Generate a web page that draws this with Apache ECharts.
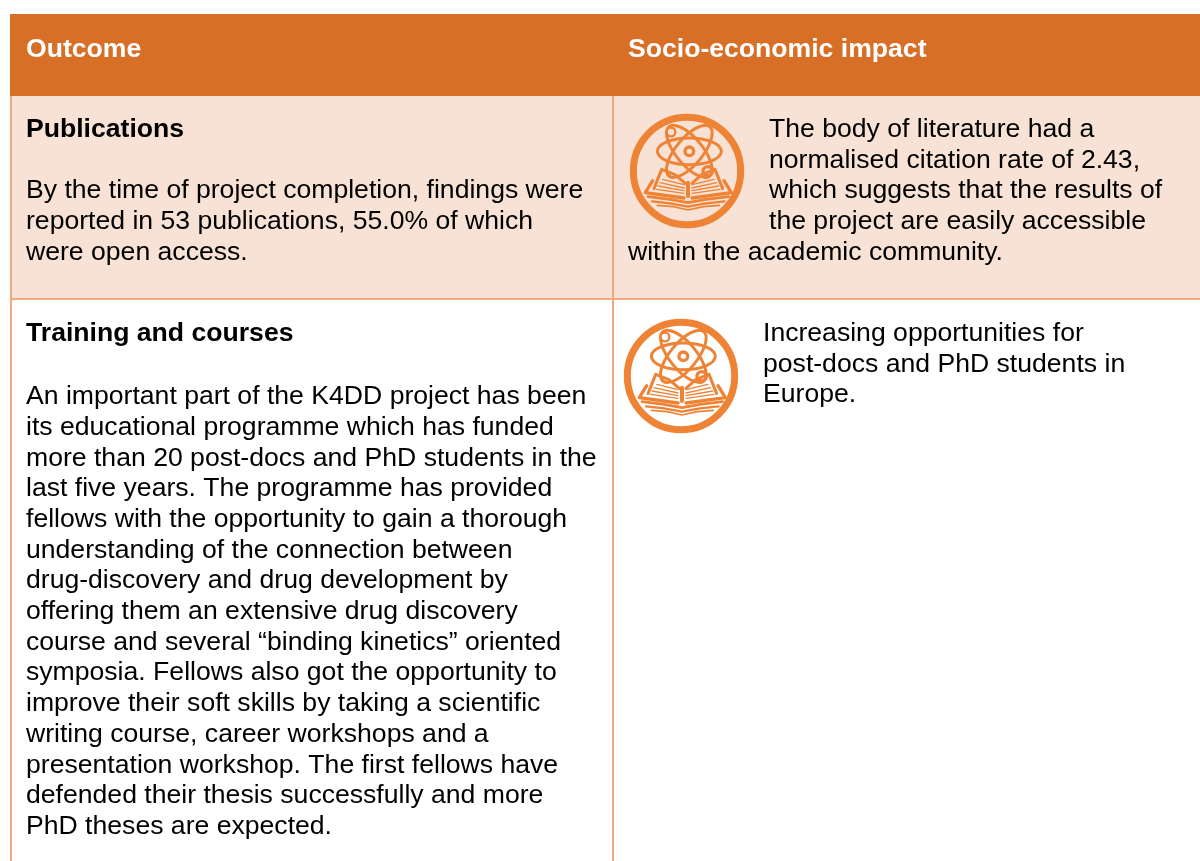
<!DOCTYPE html>
<html>
<head>
<meta charset="utf-8">
<title>K4DD outcomes</title>
<script src="https://cdn.jsdelivr.net/npm/echarts@6/dist/echarts.min.js"></script>
<style>
  html, body { margin: 0; padding: 0; background: #fff; }
  #main { width: 1200px; height: 861px; }
</style>
</head>
<body>
<div id="main"></div>
<script>
const headerLabels = ['Outcome', 'Socio-economic impact'];
const rowTitles = ['Publications', 'Training and courses'];
const publicationLines = [
  'By the time of project completion, findings were',
  'reported in 53 publications, 55.0% of which',
  'were open access.'
];
const publicationImpactLines = [
  'The body of literature had a',
  'normalised citation rate of 2.43,',
  'which suggests that the results of',
  'the project are easily accessible'
];
const publicationImpactLast = 'within the academic community.';
const trainingLines = [
  'An important part of the K4DD project has been',
  'its educational programme which has funded',
  'more than 20 post-docs and PhD students in the',
  'last five years. The programme has provided',
  'fellows with the opportunity to gain a thorough',
  'understanding of the connection between',
  'drug-discovery and drug development by',
  'offering them an extensive drug discovery',
  'course and several \u201cbinding kinetics\u201d oriented',
  'symposia. Fellows also got the opportunity to',
  'improve their soft skills by taking a scientific',
  'writing course, career workshops and a',
  'presentation workshop. The first fellows have',
  'defended their thesis successfully and more',
  'PhD theses are expected.'
];
const trainingImpactLines = [
  'Increasing opportunities for',
  'post-docs and PhD students in',
  'Europe.'
];

const HEADER = '#D86F27', ROW = '#F7E2D5', BORDER = '#EEAA7C', ICON = '#EE8336';
const FONT = '"Liberation Sans", Arial, sans-serif';
const SIZE = 26.6, LEAD = 30.68;

function txt(x, y, text, bold, color) {
  return {
    type: 'text', x: x, y: y, silent: true,
    style: {
      text: text, fill: color || '#000',
      font: (bold ? 'bold ' : '') + SIZE + 'px ' + FONT,
      align: 'left', verticalAlign: 'middle'
    }
  };
}
function block(x, y, lines) {
  return lines.map((l, i) => txt(x, y + i * LEAD, l));
}
function rect(x, y, w, h, fill) {
  return { type: 'rect', silent: true, shape: { x: x, y: y, width: w, height: h }, style: { fill: fill } };
}

// icon is drawn in 3x coordinates (taken from a zoomed crop) then scaled down
function icon(cx, cy, bg) {
  const line = (pts, lw) => ({
    type: 'polyline', shape: { points: pts },
    style: { stroke: ICON, fill: null, lineWidth: lw || 5, lineJoin: 'round', lineCap: 'round' }
  });
  const ring = (x, y, r, lw) => ({
    type: 'circle', shape: { cx: x, cy: y, r: r },
    style: { stroke: ICON, fill: 'none', lineWidth: lw }
  });
  const orbit = (rot) => ({
    type: 'ellipse', x: 208, y: 138, rotation: rot,
    shape: { cx: 0, cy: 0, rx: 96, ry: 40 },
    style: { stroke: ICON, fill: 'none', lineWidth: 9 }
  });
  const book = [
    // pages top edge and spine
    line([[196, 234], [165, 208], [125, 192], [102, 250]], 9),
    line([[216, 234], [245, 208], [285, 192], [308, 250]], 9),
    line([[204, 232], [204, 272]], 12),
    // cover
    line([[98, 226], [76, 262], [192, 278]], 10),
    line([[312, 226], [334, 262], [216, 278]], 10),
    // page lines
    line([[128, 222], [192, 238]], 4), line([[120, 232], [192, 248]], 4), line([[114, 242], [192, 256]], 4), line([[110, 252], [192, 264]], 4),
    line([[282, 222], [216, 238]], 4), line([[290, 232], [216, 248]], 4), line([[296, 242], [216, 256]], 4), line([[300, 252], [216, 264]], 4),
    // lower leaves
    line([[84, 274], [150, 282], [204, 292], [258, 282], [326, 274]], 8),
    line([[96, 288], [150, 294], [204, 304], [258, 294], [314, 288]], 7),
    line([[112, 300], [160, 304], [204, 314], [250, 304], [298, 300]], 5)
  ];
  return {
    type: 'group', x: cx, y: cy, scaleX: 1 / 3, scaleY: 1 / 3, silent: true,
    children: [{
      type: 'group', x: -201, y: -197,
      children: [
        ring(201, 197, 161, 21),
        orbit(0), orbit(Math.PI * 0.28), orbit(-Math.PI * 0.28),
        ring(208, 138, 13, 10),
        { type: 'circle', shape: { cx: 153, cy: 80, r: 13 }, style: { fill: bg, stroke: ICON, lineWidth: 7 } },
        { type: 'circle', shape: { cx: 263, cy: 198, r: 14 }, style: { fill: bg, stroke: ICON, lineWidth: 10 } }
      ].concat(book)
    }]
  };
}

const elements = [
  rect(10, 14, 1190, 82, HEADER),
  rect(10, 96, 1190, 202, ROW),
  rect(10, 96, 2, 765, BORDER),
  rect(612, 96, 2, 765, BORDER),
  rect(10, 298, 1190, 2, BORDER),
  txt(26, 50, headerLabels[0], true, '#fff'),
  txt(628, 50, headerLabels[1], true, '#fff'),
  txt(26, 129.5, rowTitles[0], true),
  txt(26, 333.5, rowTitles[1], true)
].concat(
  block(26, 191, publicationLines),
  block(769, 129.5, publicationImpactLines),
  [txt(628, 252.5, publicationImpactLast)],
  block(26, 397, trainingLines),
  block(763, 333.5, trainingImpactLines),
  [icon(687, 171, ROW), icon(681, 376, '#fff')]
);

const chart = echarts.init(document.getElementById('main'), null, { renderer: 'canvas' });
chart.setOption({
  backgroundColor: '#fff',
  animation: false,
  graphic: { elements: elements }
});
</script>
</body>
</html>
